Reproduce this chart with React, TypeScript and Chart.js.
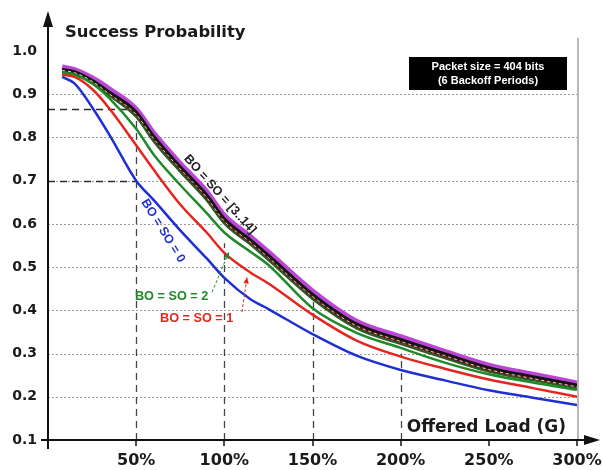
import React, { useEffect, useRef } from "react";
import { Chart, registerables } from "chart.js";

Chart.register(...registerables);

// Offered load G (1.0 = 100%)
const loads = [0.08, 0.15, 0.25, 0.35, 0.5, 0.6, 0.75, 0.9, 1.0, 1.15, 1.25, 1.5, 1.75, 2.0, 2.25, 2.5, 2.75, 3.0];

// Success probability per BO = SO setting
const bo0 = [0.94, 0.925, 0.87, 0.805, 0.7, 0.655, 0.585, 0.52, 0.475, 0.425, 0.403, 0.345, 0.295, 0.262, 0.238, 0.215, 0.198, 0.181];
const bo1 = [0.945, 0.94, 0.912, 0.866, 0.782, 0.725, 0.645, 0.58, 0.533, 0.487, 0.462, 0.39, 0.33, 0.293, 0.265, 0.24, 0.22, 0.2];
const bo2 = [0.95, 0.945, 0.925, 0.89, 0.82, 0.76, 0.69, 0.625, 0.58, 0.535, 0.505, 0.405, 0.348, 0.313, 0.279, 0.252, 0.233, 0.216];
const bo3to14Purple = [0.963, 0.957, 0.938, 0.912, 0.866, 0.81, 0.74, 0.675, 0.62, 0.57, 0.535, 0.445, 0.375, 0.339, 0.305, 0.273, 0.252, 0.232];
const bo3to14Black = [0.958, 0.953, 0.933, 0.905, 0.86, 0.803, 0.733, 0.668, 0.613, 0.563, 0.528, 0.438, 0.369, 0.333, 0.3, 0.268, 0.247, 0.228];
const bo3to14Brown = [0.955, 0.95, 0.93, 0.9, 0.853, 0.797, 0.727, 0.661, 0.606, 0.557, 0.522, 0.432, 0.364, 0.328, 0.295, 0.263, 0.242, 0.223];
const bo3to14Green = [0.952, 0.947, 0.927, 0.896, 0.847, 0.79, 0.72, 0.654, 0.6, 0.551, 0.516, 0.426, 0.358, 0.322, 0.289, 0.258, 0.238, 0.219];

// Axis / grid values
const gridLevels = [0.2, 0.3, 0.4, 0.5, 0.6, 0.7, 0.8, 0.9];
const xTickLoads = [0.5, 1.0, 1.5, 2.0, 2.5, 3.0];

// Dashed guide lines
const hGuideLevels = [0.866, 0.7];
const hGuideEnd = 0.5;
const vGuideLoads = [0.5, 1.0, 1.5, 2.0];
const vGuideTops = [0.866, 0.555, 0.42, 0.3];

const COLORS = {
  blue: "#1f2fd2",
  red: "#e4261f",
  green: "#1f8a2a",
  purple: "#bb45d6",
  brown: "#5a1616",
  black: "#141414",
  dgreen: "#2d5a1e",
};

const toPts = (arr: number[]) => loads.map((g, i) => ({ x: g, y: arr[i] }));

function arrow(ctx: CanvasRenderingContext2D, x1: number, y1: number, x2: number, y2: number, color: string) {
  ctx.save();
  ctx.strokeStyle = color;
  ctx.fillStyle = color;
  ctx.lineWidth = 1;
  ctx.setLineDash([3, 2]);
  ctx.beginPath();
  ctx.moveTo(x1, y1);
  ctx.lineTo(x2, y2);
  ctx.stroke();
  ctx.setLineDash([]);
  const ang = Math.atan2(y2 - y1, x2 - x1);
  const L = 7;
  ctx.beginPath();
  ctx.moveTo(x2, y2);
  ctx.lineTo(x2 - L * Math.cos(ang - 0.4), y2 - L * Math.sin(ang - 0.4));
  ctx.lineTo(x2 - L * Math.cos(ang + 0.4), y2 - L * Math.sin(ang + 0.4));
  ctx.closePath();
  ctx.fill();
  ctx.restore();
}

const decor = {
  id: "decor",
  beforeDatasetsDraw(chart: any) {
    const { ctx, chartArea: a, scales } = chart;
    const x = scales.x;
    const y = scales.y;
    ctx.save();
    // dotted grid
    ctx.strokeStyle = "#9c9c9c";
    ctx.lineWidth = 1;
    ctx.setLineDash([2, 2]);
    gridLevels.forEach((v) => {
      const py = Math.round(y.getPixelForValue(v)) + 0.5;
      ctx.beginPath();
      ctx.moveTo(a.left, py);
      ctx.lineTo(a.right, py);
      ctx.stroke();
    });
    // right border
    ctx.setLineDash([]);
    ctx.strokeStyle = "#b8b8b8";
    ctx.lineWidth = 2;
    ctx.beginPath();
    ctx.moveTo(a.right + 1, a.top - 13);
    ctx.lineTo(a.right + 1, a.bottom);
    ctx.stroke();
    // dashed guides
    ctx.strokeStyle = "#2a2a2a";
    ctx.lineWidth = 1.3;
    ctx.setLineDash([7, 5]);
    hGuideLevels.forEach((v) => {
      const py = Math.round(y.getPixelForValue(v)) + 0.5;
      ctx.beginPath();
      ctx.moveTo(a.left, py);
      ctx.lineTo(x.getPixelForValue(hGuideEnd), py);
      ctx.stroke();
    });
    ctx.strokeStyle = "#444";
    vGuideLoads.forEach((g, i) => {
      const px = Math.round(x.getPixelForValue(g)) + 0.5;
      ctx.beginPath();
      ctx.moveTo(px, a.bottom);
      ctx.lineTo(px, y.getPixelForValue(vGuideTops[i]));
      ctx.stroke();
    });
    ctx.restore();
  },
  afterDatasetsDraw(chart: any) {
    const { ctx, chartArea: a, scales } = chart;
    const x = scales.x;
    const y = scales.y;
    ctx.save();
    // axes
    ctx.strokeStyle = "#111";
    ctx.fillStyle = "#111";
    ctx.lineWidth = 2;
    ctx.beginPath();
    ctx.moveTo(a.left, a.bottom + 9);
    ctx.lineTo(a.left, 24);
    ctx.stroke();
    ctx.beginPath();
    ctx.moveTo(a.left, 11);
    ctx.lineTo(a.left - 5, 27);
    ctx.lineTo(a.left + 5, 27);
    ctx.closePath();
    ctx.fill();
    ctx.beginPath();
    ctx.moveTo(a.left - 7, a.bottom);
    ctx.lineTo(588, a.bottom);
    ctx.stroke();
    ctx.beginPath();
    ctx.moveTo(600, a.bottom);
    ctx.lineTo(584, a.bottom - 5);
    ctx.lineTo(584, a.bottom + 5);
    ctx.closePath();
    ctx.fill();
    // x tick marks
    ctx.lineWidth = 1.5;
    xTickLoads.forEach((g) => {
      const px = Math.round(x.getPixelForValue(g));
      ctx.beginPath();
      ctx.moveTo(px, a.bottom);
      ctx.lineTo(px, a.bottom + 6);
      ctx.stroke();
    });

    // titles
    ctx.fillStyle = "#1a1a1a";
    ctx.font = 'bold 16.4px "DejaVu Sans"';
    ctx.textBaseline = "middle";
    ctx.textAlign = "left";
    ctx.fillText("Success Probability", a.left + 17, 33);
    ctx.textAlign = "right";
    ctx.font = 'bold 17px "DejaVu Sans"';
    ctx.fillText("Offered Load (G)", a.right - 11, a.bottom - 12);

    // info box
    const bx = a.right - 168;
    const by = a.top + 6;
    ctx.fillStyle = "#000";
    ctx.fillRect(bx, by, 158, 33);
    ctx.fillStyle = "#fff";
    ctx.textAlign = "center";
    ctx.font = 'bold 11px "Liberation Sans"';
    ctx.fillText("Packet size = 404 bits", bx + 79, by + 10);
    ctx.fillText("(6 Backoff Periods)", bx + 79, by + 24);

    // curve labels
    const rot = (txt: string, g: number, v: number, ang: number, color: string) => {
      ctx.save();
      ctx.translate(x.getPixelForValue(g), y.getPixelForValue(v));
      ctx.rotate((ang * Math.PI) / 180);
      ctx.fillStyle = color;
      ctx.textAlign = "center";
      ctx.textBaseline = "middle";
      ctx.font = 'bold 12.5px "Liberation Sans"';
      ctx.fillText(txt, 0, 0);
      ctx.restore();
    };
    rot("BO = SO = [3..14]", 0.975, 0.668, 48, "#222");
    rot("BO = SO = 0", 0.652, 0.584, 58, COLORS.blue);

    ctx.font = 'bold 12.7px "Liberation Sans"';
    ctx.textAlign = "left";
    ctx.textBaseline = "middle";
    ctx.fillStyle = COLORS.green;
    ctx.fillText("BO = SO = 2", x.getPixelForValue(0.493), y.getPixelForValue(0.431));
    ctx.fillStyle = COLORS.red;
    ctx.fillText("BO = SO = 1", x.getPixelForValue(0.635), y.getPixelForValue(0.382));

    arrow(ctx, x.getPixelForValue(0.93), y.getPixelForValue(0.442), x.getPixelForValue(1.026), y.getPixelForValue(0.535), COLORS.green);
    arrow(ctx, x.getPixelForValue(1.1), y.getPixelForValue(0.396), x.getPixelForValue(1.129), y.getPixelForValue(0.477), COLORS.red);

    ctx.restore();
  },
};

export default function App() {
  const ref = useRef<HTMLCanvasElement | null>(null);
  useEffect(() => {
    if (!ref.current) return;
    const ds = (label: string, arr: number[], color: string, width: number, dash: number[] = []) => ({
      label,
      data: toPts(arr),
      borderColor: color,
      backgroundColor: color,
      borderWidth: width,
      borderDash: dash,
      pointRadius: 0,
      tension: 0.35,
      cubicInterpolationMode: "monotone" as const,
      fill: false,
    });
    const chart = new Chart(ref.current, {
      type: "line",
      data: {
        datasets: [
          ds("BO = SO = 0", bo0, COLORS.blue, 2.5),
          ds("BO = SO = 1", bo1, COLORS.red, 2.5),
          ds("BO = SO = 2", bo2, COLORS.green, 2.5),
          ds("BO = SO = 3..14 (a)", bo3to14Brown, "rgba(255,255,255,0.8)", 1, [3, 3]),
          ds("BO = SO = 3..14 (b)", bo3to14Green, COLORS.dgreen, 2),
          ds("BO = SO = 3..14 (c)", bo3to14Black, COLORS.black, 2.5),
          ds("BO = SO = 3..14 (d)", bo3to14Brown, COLORS.brown, 3.5),
          ds("BO = SO = 3..14 (e)", bo3to14Purple, COLORS.purple, 5),
        ],
      },
      options: {
        animation: false,
        responsive: false,
        maintainAspectRatio: false,
        layout: { padding: { top: 51, right: 26, left: 0, bottom: 0 } },
        plugins: { legend: { display: false }, tooltip: { enabled: false }, title: { display: false } },
        elements: { point: { radius: 0 } },
        scales: {
          x: {
            type: "linear",
            min: 0,
            max: 3,
            grid: { display: false, drawTicks: false, tickLength: 0 },
            border: { display: false },
            ticks: {
              stepSize: 0.5,
              padding: 11,
              color: "#1a1a1a",
              autoSkip: false,
              maxRotation: 0,
              font: { family: "DejaVu Sans", weight: "bold", size: 16 },
              callback: (v: any) => (Number(v) === 0 ? "" : Math.round(Number(v) * 100) + "%"),
            },
            afterFit: (s: any) => {
              s.height = 30;
              s.paddingLeft = 0;
              s.paddingRight = 0;
            },
          },
          y: {
            min: 0.1,
            max: 1.0,
            grid: { display: false, drawTicks: false, tickLength: 0 },
            border: { display: false },
            ticks: {
              stepSize: 0.1,
              padding: 11,
              color: "#1a1a1a",
              font: { family: "DejaVu Sans", weight: "bold", size: 14 },
              callback: (v: any) => Number(v).toFixed(1),
            },
            afterFit: (s: any) => {
              s.width = 48;
              s.paddingTop = 0;
              s.paddingBottom = 0;
            },
          },
        },
      },
      plugins: [decor],
    });
    return () => chart.destroy();
  }, []);
  return (
    <div style={{ position: "fixed", left: 0, top: 0, width: 603, height: 470, background: "#fff" }}>
      <canvas ref={ref} width={603} height={470} style={{ width: 603, height: 470, display: "block" }} />
    </div>
  );
}
